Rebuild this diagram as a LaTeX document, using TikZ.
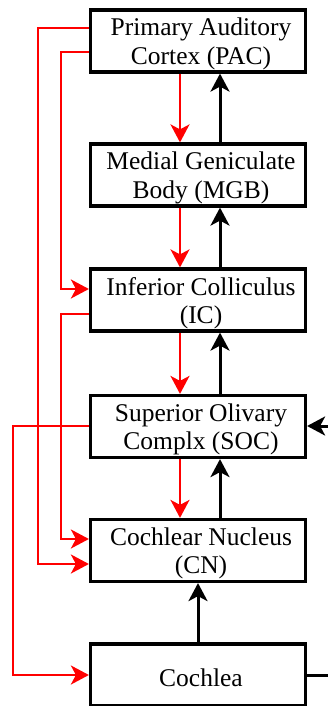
\documentclass[tikz,border=0pt]{standalone}
\usepackage{fontspec}
\setmainfont{Liberation Serif}
\usetikzlibrary{arrows.meta}
\begin{document}
\begin{tikzpicture}[x=1pt,y=1pt,
  lab/.style={align=center, inner sep=0pt, font=\fontsize{25.5}{28.5}\selectfont, xshift=3pt, yshift=-3pt},
  box/.style={draw, line width=3.2pt, minimum width=215pt, minimum height=62pt, inner sep=0pt,
    label={[lab]center:{#1}}},
  redarr/.style={draw=red, line width=2.3pt, -{Stealth[length=18pt,width=19pt,inset=5pt]}},
  blkarr/.style={draw=black, line width=3pt, -{Stealth[length=18pt,width=19pt,inset=5pt]}},
  blkline/.style={draw=black, line width=3pt}]
\useasboundingbox (0,0) rectangle (328,-706);
\clip (0,0) rectangle (328,-706);
\fill[white] (0,0) rectangle (328,-706);
\node[box={Primary Auditory\\Cortex (PAC)}] (pac) at (198,-41) {};
\node[box={Medial Geniculate\\Body (MGB)}] (mgb) at (198,-175) {};
\node[box={Inferior Colliculus\\(IC)}] (ic)  at (198,-300) {};
\node[box={Superior Olivary\\Complx (SOC)}] (soc) at (198,-426.5) {};
\node[box={Cochlear Nucleus\\(CN)}] (cn)  at (198,-550.5) {};
\node[box={Cochlea}] (co)  at (198,-675) {};
\coordinate (rin) at (330,-426);
\coordinate (rout) at (330,-675);
% descending red
\draw[redarr] ([xshift=-18pt]pac.south) -- ([xshift=-18pt]mgb.north);
\draw[redarr] ([xshift=-18pt]mgb.south) -- ([xshift=-18pt]ic.north);
\draw[redarr] ([xshift=-18pt]ic.south) -- ([xshift=-18pt]soc.north);
\draw[redarr] ([xshift=-18pt]soc.south) -- ([xshift=-18pt]cn.north);
% ascending black
\draw[blkarr] ([xshift=22pt]mgb.north) -- ([xshift=22pt]pac.south);
\draw[blkarr] ([xshift=22pt]ic.north) -- ([xshift=22pt]mgb.south);
\draw[blkarr] ([xshift=22pt]soc.north) -- ([xshift=22pt]ic.south);
\draw[blkarr] ([xshift=22pt]cn.north) -- ([xshift=22pt]soc.south);
\draw[blkarr] (co.north) -- (cn.south);
% side red
\draw[redarr] ([yshift=13pt]pac.west) -- ++(-51,0) |- ([yshift=-13.5pt]cn.west);
\draw[redarr] ([yshift=-11pt]pac.west) -- ++(-28,0) |- ([yshift=11pt]ic.west);
\draw[redarr] ([yshift=-14pt]ic.west) -- ++(-28,0) |- ([yshift=11.5pt]cn.west);
\draw[redarr] ([yshift=0.5pt]soc.west) -- ++(-76,0) |- (co.west);
% right side black
\draw[blkarr] (rin) -- ([yshift=0.5pt]soc.east);
\draw[blkline] (co.east) -- (rout);
\end{tikzpicture}
\end{document}
